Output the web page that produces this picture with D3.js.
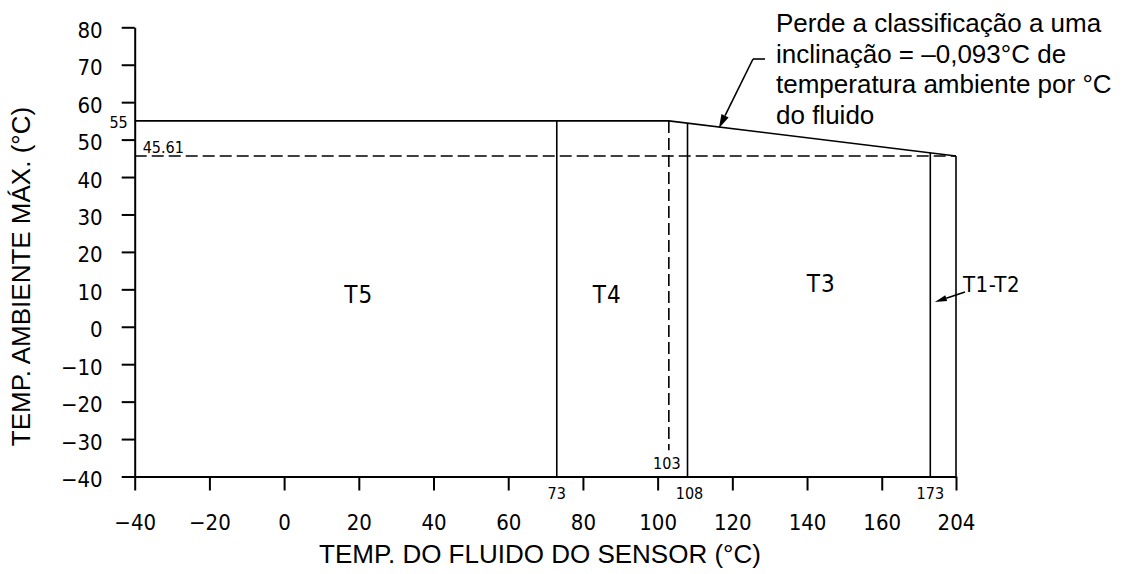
<!DOCTYPE html>
<html>
<head>
<meta charset="utf-8">
<script src="https://cdn.jsdelivr.net/npm/d3@7"></script>
<style>
  html, body { margin: 0; padding: 0; background: #fff; }
  svg { display: block; }
</style>
</head>
<body>
<svg id="chart" width="1129" height="574"></svg>
<script>
// ---------- data ----------
const xTickValues = [-40, -20, 0, 20, 40, 60, 80, 100, 120, 140, 160, 204];
const yTickValues = [80, 70, 60, 50, 40, 30, 20, 10, 0, -10, -20, -30, -40];
const zoneBoundaries = [73, 108, 173, 204];          // fluid temp limits (°C)
const zoneNames = ["T5", "T4", "T3", "T1-T2"];
const maxAmbient = 55;                                // flat limit (°C)
const derateStart = 103;                              // fluid temp where derating begins
const derateEndFluid = 204;
const derateEndAmbient = 45.61;
const derateSlope = -0.093;
const envelope = [[-40, maxAmbient], [derateStart, maxAmbient], [derateEndFluid, derateEndAmbient]];
const annotationLines = [
  "Perde a classificação a uma",
  "inclinação = \u20130,093°C de",
  "temperatura ambiente por °C",
  "do fluido"
];
const xTitle = "TEMP. DO FLUIDO DO SENSOR (°C)";
const yTitle = "TEMP. AMBIENTE MÁX. (°C)";

// ---------- layout ----------
const cad = "'DejaVu Sans Condensed', 'DejaVu Sans', sans-serif";
const helv = "'Liberation Sans', Arial, Helvetica, sans-serif";
const svg = d3.select("#chart");
svg.append("rect").attr("width", 1129).attr("height", 574).attr("fill", "#fff");

// The drawing compresses the last interval (173 → 204) on the axis
const x = d3.scaleLinear().domain([-40, 173, 204]).range([134.7, 930.3, 956]);
const y = d3.scaleLinear().domain([-40, 80]).range([476.5, 27.3]);

const fmt = d => (d < 0 ? "\u2212" + Math.abs(d) : String(d));

// x axis
const gx = svg.append("g").attr("transform", `translate(0,${y(-40)})`)
  .call(d3.axisBottom(x).tickValues(xTickValues).tickSize(14).tickSizeOuter(0).tickFormat(fmt));
gx.select(".domain").attr("stroke", "#000").attr("stroke-width", 2);
gx.selectAll(".tick line").attr("stroke", "#000").attr("stroke-width", 2);
gx.selectAll(".tick text").attr("y", 53.5).attr("dy", null)
  .attr("font-family", cad).attr("font-stretch", "condensed").attr("font-size", 22).attr("fill", "#000");

// y axis
const gy = svg.append("g").attr("transform", `translate(${x(-40)},0)`)
  .call(d3.axisLeft(y).tickValues(yTickValues).tickSize(13).tickSizeOuter(0).tickFormat(fmt));
gy.select(".domain").attr("stroke", "#000").attr("stroke-width", 2);
gy.selectAll(".tick line").attr("stroke", "#000").attr("stroke-width", 2);
gy.selectAll(".tick text").attr("x", -32).attr("y", 10).attr("dy", null)
  .attr("font-family", cad).attr("font-stretch", "condensed").attr("font-size", 22).attr("fill", "#000");

const plot = svg.append("g").attr("fill", "none").attr("stroke", "#000").attr("stroke-width", 1.6);

// envelope (max ambient line with derating)
const line = d3.line().x(d => x(d[0])).y(d => y(d[1]));
plot.append("path").attr("d", line(envelope));

// pixel-space height of the envelope at a given fluid temperature
const envPx = d3.scaleLinear()
  .domain([x(derateStart), x(derateEndFluid)])
  .range([y(maxAmbient), y(derateEndAmbient)]);
const topAt = t => (t <= derateStart ? y(maxAmbient) : envPx(x(t)));

// zone boundaries
plot.selectAll("line.zone").data(zoneBoundaries).join("line")
  .attr("class", "zone")
  .attr("x1", d => x(d)).attr("x2", d => x(d))
  .attr("y1", d => topAt(d)).attr("y2", y(-40));

// dashed reference lines
plot.append("line").attr("stroke-dasharray", "12,5")
  .attr("x1", x(-40)).attr("x2", x(derateEndFluid))
  .attr("y1", y(derateEndAmbient)).attr("y2", y(derateEndAmbient));
plot.append("line").attr("stroke-dasharray", "12,5")
  .attr("x1", x(derateStart)).attr("x2", x(derateStart))
  .attr("y1", y(maxAmbient)).attr("y2", y(-33));

// small value labels
const small = svg.append("g").attr("font-family", cad).attr("font-stretch", "condensed")
  .attr("font-size", 16).attr("fill", "#000");
small.append("text").attr("x", x(-40) - 7).attr("y", y(maxAmbient) + 7).attr("text-anchor", "end").text(String(maxAmbient));
small.append("text").attr("x", x(-40) + 8).attr("y", y(derateEndAmbient) - 3).text(String(derateEndAmbient));
small.append("text").attr("x", x(derateStart) - 2).attr("y", y(-40) - 8).attr("text-anchor", "middle").text(String(derateStart));
small.selectAll("text.zb").data(zoneBoundaries.slice(0, 3)).join("text")
  .attr("class", "zb")
  .attr("x", (d, i) => x(d) + (i === 1 ? 2 : 0))
  .attr("y", y(-40) + 22).attr("text-anchor", "middle").text(d => String(d));

// zone labels
const zoneLabelPos = [[20, 6.4], [86.5, 6.4], [143.8, 9.3]];
const zl = svg.append("g").attr("font-family", cad).attr("font-stretch", "condensed")
  .attr("font-size", 24).attr("fill", "#000").attr("letter-spacing", 1);
zl.selectAll("text").data(zoneLabelPos).join("text")
  .attr("x", d => x(d[0])).attr("y", d => y(d[1])).attr("text-anchor", "middle")
  .text((d, i) => zoneNames[i]);
// T1-T2 label with arrow
const t12x = x(derateEndFluid) + 7, t12y = y(9.3);
svg.append("text").attr("x", t12x).attr("y", t12y)
  .attr("font-family", cad).attr("font-stretch", "condensed").attr("font-size", 22).attr("fill", "#000")
  .attr("letter-spacing", 0.5)
  .text(zoneNames[3]);

function arrow(x0, y0, x1, y1, len, half) {
  const g = svg.append("g");
  const dx = x1 - x0, dy = y1 - y0, L = Math.hypot(dx, dy);
  const ux = dx / L, uy = dy / L;
  const bx = x1 - ux * len, by = y1 - uy * len;
  g.append("line").attr("x1", x0).attr("y1", y0).attr("x2", bx).attr("y2", by)
    .attr("stroke", "#000").attr("stroke-width", 1.6);
  g.append("path")
    .attr("d", `M${x1},${y1}L${bx - uy * half},${by + ux * half}L${bx + uy * half},${by - ux * half}Z`)
    .attr("fill", "#000");
}
arrow(t12x + 2, t12y, x(178.5), t12y + 10, 12, 3);

// slope annotation
const ann = svg.append("g").attr("font-family", helv).attr("font-size", 26).attr("fill", "#000");
ann.selectAll("text").data(annotationLines).join("text")
  .attr("x", 776).attr("y", (d, i) => 32 + i * 30.5).text(d => d);
// leader
svg.append("line").attr("x1", 753).attr("y1", 59).attr("x2", 765).attr("y2", 59)
  .attr("stroke", "#000").attr("stroke-width", 1.6);
const tipT = 118;
arrow(753, 59, x(tipT) - 6, topAt(tipT) + 0.5, 14, 4);

// axis titles
svg.append("text").attr("x", 540).attr("y", 563).attr("text-anchor", "middle")
  .attr("font-family", helv).attr("font-size", 26).attr("fill", "#000").text(xTitle);
svg.append("text").attr("transform", "translate(30,276.5) rotate(-90)").attr("text-anchor", "middle")
  .attr("font-family", helv).attr("font-size", 26).attr("fill", "#000").text(yTitle);
</script>
</body>
</html>
